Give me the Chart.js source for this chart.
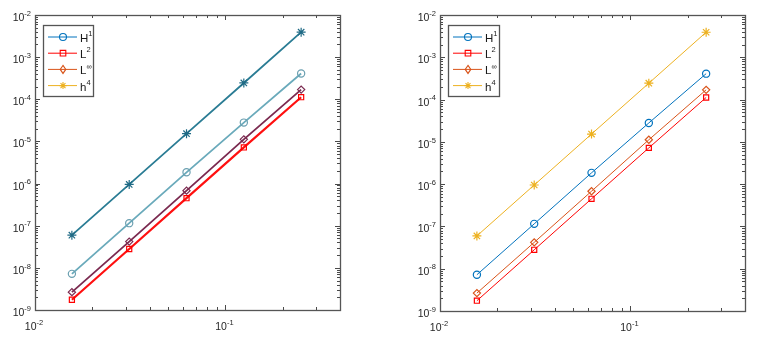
<!DOCTYPE html>
<html>
<head>
<meta charset="utf-8">
<script src="https://cdn.jsdelivr.net/npm/chart.js@4/dist/chart.umd.min.js"></script>
<style>
  html, body { margin: 0; padding: 0; background: #fff; }
  #wrap { position: relative; width: 760px; height: 340px; }
  canvas { position: absolute; top: 0; }
</style>
</head>
<body>
<div id="wrap">
  <canvas id="left" width="380" height="340" style="left:0"></canvas>
  <canvas id="right" width="380" height="340" style="left:380px"></canvas>
</div>
<script>
// ---- data ----
const hValues = [0.015625, 0.03125, 0.0625, 0.125, 0.25];
const errH1   = [7.2e-9, 1.15e-7, 1.85e-6, 2.8e-5, 4.1e-4];
const errL2   = [1.75e-9, 2.8e-8, 4.5e-7, 7.2e-6, 1.12e-4];
const errLinf = [2.65e-9, 4.2e-8, 6.8e-7, 1.12e-5, 1.7e-4];
const refH4   = [5.96e-8, 9.54e-7, 1.53e-5, 2.44e-4, 3.91e-3];
const seriesNames = [['H', '1'], ['L', '2'], ['L', '\u221E'], ['h', '4']];
const xTickValues = [0.01, 0.1];
const xTickLabels = ['10^-2', '10^-1'];
const yTickValues = [1e-9, 1e-8, 1e-7, 1e-6, 1e-5, 1e-4, 1e-3, 1e-2];
const yTickLabels = ['10^-9', '10^-8', '10^-7', '10^-6', '10^-5', '10^-4', '10^-3', '10^-2'];
const xRange = [0.01, 0.4];
const yRange = [1e-9, 1e-2];

const FONT = '"Liberation Sans", Arial, sans-serif';
const legendColors = ['#0072BD', '#FF0000', '#D95319', '#EDB120'];
const styles = ['circle', 'rect', 'rectRot', 'star'];

function pts(ys) { return hValues.map((x, i) => ({ x: x, y: ys[i] })); }

function drawMarker(ctx, style, x, y, r, color) {
  ctx.save();
  ctx.strokeStyle = color; ctx.lineWidth = 1.1;
  ctx.beginPath();
  if (style === 'circle') { ctx.arc(x, y, r, 0, Math.PI * 2); }
  else if (style === 'rect') { ctx.rect(x - r * 0.8, y - r * 0.8, r * 1.6, r * 1.6); }
  else if (style === 'rectRot') { ctx.moveTo(x, y - r * 1.15); ctx.lineTo(x + r * 0.8, y); ctx.lineTo(x, y + r * 1.15); ctx.lineTo(x - r * 0.8, y); ctx.closePath(); }
  else if (style === 'star') {
    for (let k = 0; k < 4; k++) {
      const a = k * Math.PI / 4;
      ctx.moveTo(x - r * Math.cos(a), y - r * Math.sin(a));
      ctx.lineTo(x + r * Math.cos(a), y + r * Math.sin(a));
    }
  }
  ctx.stroke();
  ctx.restore();
}

function supText(ctx, label, x, y, align, baseSize, supSize) {
  const parts = label.split('^');
  ctx.font = baseSize + 'px ' + FONT;
  const wb = ctx.measureText(parts[0]).width;
  ctx.font = supSize + 'px ' + FONT;
  const ws = parts[1] ? ctx.measureText(parts[1]).width : 0;
  const total = wb + ws;
  let x0 = x;
  if (align === 'right') x0 = x - total;
  else if (align === 'center') x0 = x - total / 2;
  ctx.textAlign = 'left';
  ctx.textBaseline = 'alphabetic';
  ctx.font = baseSize + 'px ' + FONT;
  ctx.fillText(parts[0], x0, y);
  if (parts[1]) {
    ctx.font = supSize + 'px ' + FONT;
    ctx.fillText(parts[1], x0 + wb, y - baseSize * 0.5);
  }
}

const axesPlugin = {
  id: 'matlabAxes',
  afterDatasetsDraw(chart, args, opts) {
    const ctx = chart.ctx, a = chart.chartArea;
    const xs = chart.scales.x, ys = chart.scales.y;
    ctx.save();
    ctx.strokeStyle = '#4a4a4a';
    ctx.lineWidth = 1;
    // ticks
    ctx.beginPath();
    const yTickSet = [];
    for (let e = -9; e <= -2; e++) {
      for (let m = 1; m <= 9; m++) {
        const v = m * Math.pow(10, e);
        if (v < yRange[0] * 0.999 || v > yRange[1] * 1.001) continue;
        yTickSet.push({ v: v, major: m === 1 });
      }
    }
    yTickSet.forEach(t => {
      const py = Math.round(ys.getPixelForValue(t.v)) + 0.5;
      const len = t.major ? 5 : 3;
      ctx.moveTo(a.left, py); ctx.lineTo(a.left + len, py);
      ctx.moveTo(a.right, py); ctx.lineTo(a.right - len, py);
    });
    const xTickSet = [];
    for (let e = -2; e <= -1; e++) {
      for (let m = 1; m <= 9; m++) {
        const v = m * Math.pow(10, e);
        if (v < xRange[0] * 0.999 || v > xRange[1] * 1.001) continue;
        xTickSet.push({ v: v, major: m === 1 });
      }
    }
    xTickSet.forEach(t => {
      const px = Math.round(xs.getPixelForValue(t.v)) + 0.5;
      const len = t.major ? 5 : 3;
      ctx.moveTo(px, a.bottom); ctx.lineTo(px, a.bottom - len);
      ctx.moveTo(px, a.top); ctx.lineTo(px, a.top + len);
    });
    ctx.stroke();
    // box
    ctx.lineWidth = 1.3;
    ctx.strokeStyle = '#555';
    ctx.strokeRect(Math.round(a.left) + 0.5, Math.round(a.top) + 0.5, Math.round(a.right - a.left), Math.round(a.bottom - a.top));
    // labels
    ctx.fillStyle = '#262626';
    yTickValues.forEach((v, i) => {
      const py = ys.getPixelForValue(v);
      supText(ctx, yTickLabels[i], a.left - 4, py + 6, 'right', 10.5, 7.5);
    });
    xTickValues.forEach((v, i) => {
      const px = xs.getPixelForValue(v);
      supText(ctx, xTickLabels[i], px - 1, a.bottom + 20, 'center', 10.5, 7.5);
    });
    // legend
    const L = opts.legend;
    ctx.fillStyle = '#fff';
    ctx.fillRect(L.x, L.y, L.w, L.h);
    ctx.lineWidth = 1.3;
    ctx.strokeStyle = '#555';
    ctx.strokeRect(L.x + 0.5, L.y + 0.5, L.w, L.h);
    seriesNames.forEach((nm, i) => {
      const ry = L.y + 12 + i * 16.2;
      const col = legendColors[i];
      ctx.beginPath();
      ctx.strokeStyle = col; ctx.lineWidth = 1;
      ctx.moveTo(L.x + 5, ry); ctx.lineTo(L.x + 34, ry);
      ctx.stroke();
      drawMarker(ctx, styles[i], L.x + 20, ry, 3.5, col);
      ctx.fillStyle = '#1a1a1a';
      supText(ctx, nm[0] + '^' + nm[1], L.x + 37, ry + 5, 'left', 11.5, 7.5);
    });
    ctx.restore();
  }
};

function makeChart(id, colors, markerColors, widths, padding, legend) {
  const series = [errL2, errLinf, errH1, refH4];
  const order = [1, 2, 0, 3];
  const datasets = series.map((s, k) => {
    const i = order[k];
    return {
      data: pts(s),
      borderColor: colors[i],
      borderWidth: widths[i],
      pointStyle: styles[i],
      pointRadius: i === 3 ? 4.5 : 3.6,
      pointBorderColor: markerColors[i],
      pointBackgroundColor: 'rgba(0,0,0,0)',
      pointBorderWidth: 1.2,
      fill: false,
      tension: 0
    };
  });
  return new Chart(document.getElementById(id), {
    type: 'line',
    data: { datasets: datasets },
    options: {
      responsive: false,
      animation: false,
      devicePixelRatio: 1,
      layout: { padding: padding },
      plugins: { legend: { display: false }, tooltip: { enabled: false }, matlabAxes: { legend: legend } },
      scales: {
        x: { type: 'logarithmic', min: xRange[0], max: xRange[1], display: false },
        y: { type: 'logarithmic', min: yRange[0], max: yRange[1], display: false }
      }
    },
    plugins: [axesPlugin]
  });
}

makeChart('left',
  ['#6aaabb', '#ff1010', '#7b2a50', '#2a7c94'],
  ['#6a9fb0', '#ff0000', '#7b2a50', '#1f6a85'],
  [1.8, 2.2, 1.8, 1.8],
  { left: 35, right: 40, top: 15, bottom: 30 },
  { x: 43, y: 25, w: 50, h: 71 });

makeChart('right',
  legendColors, legendColors,
  [1, 1, 1, 1],
  { left: 60, right: 15, top: 15, bottom: 29 },
  { x: 68, y: 25, w: 51, h: 71 });
</script>
</body>
</html>
